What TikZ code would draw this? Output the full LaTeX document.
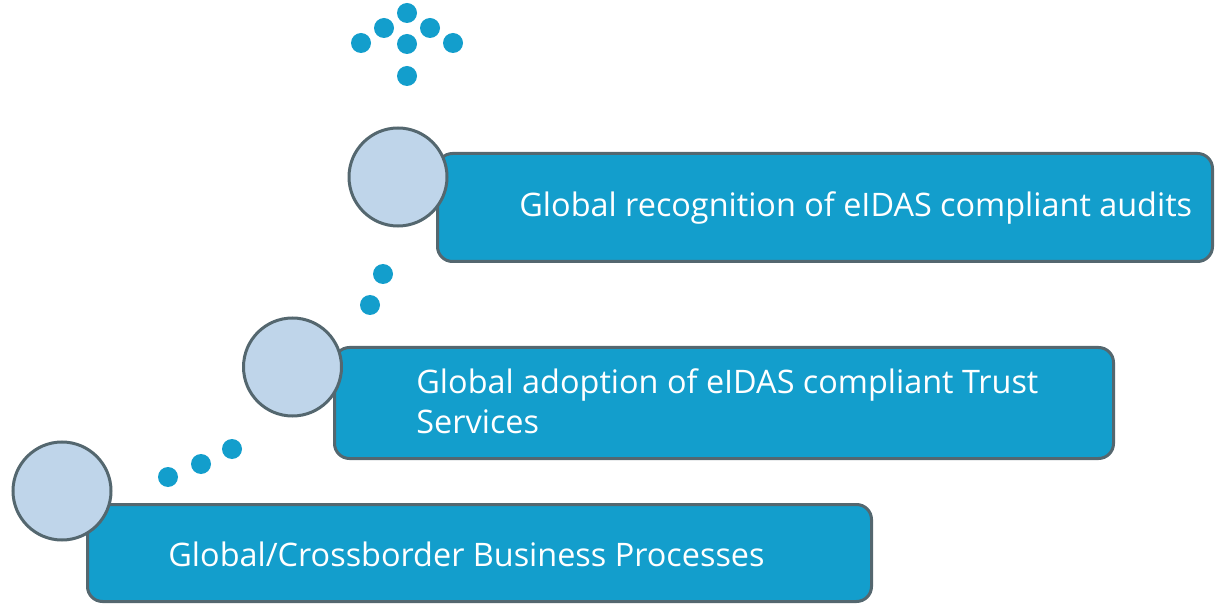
\documentclass[tikz,border=0pt]{standalone}
\usepackage{fontspec}
\setmainfont{Open Sans}
\definecolor{stageblue}{HTML}{139ECC}
\definecolor{ringfill}{HTML}{BFD5EA}
\definecolor{edgegray}{HTML}{54676F}
\tikzset{
  stage/.style={draw=edgegray, line width=1.5pt, fill=stageblue,
    rounded corners=7.5pt, inner sep=0pt},
  ring/.style={circle, draw=edgegray, line width=1.5pt, fill=ringfill,
    minimum size=49pt, inner sep=0pt},
  blob/.style={circle, fill=stageblue, minimum size=10pt, inner sep=0pt},
  stagetext/.style={anchor=base west, inner sep=0pt, text=white, align=left,
    font=\fontsize{16.2pt}{20pt}\selectfont},
}
\begin{document}
\begin{tikzpicture}[x=0.5pt,y=-0.5pt]
  \useasboundingbox (0,0) rectangle (1216,604);

  % the three stages
  \node[stage, minimum width=387.5pt, minimum height=54pt] (audits) at (825,207.5) {};
  \node[stage, minimum width=389.5pt, minimum height=55.5pt] (trust) at (724,403) {};
  \node[stage, minimum width=392pt, minimum height=48.5pt] (business) at (479.5,553) {};

  % base of the last line
  \node[stagetext] (auditstext) at (519,217) {Global recognition of eIDAS compliant audits};
  \node[stagetext] (trusttext) at (416,433) {Global adoption of eIDAS compliant Trust\\Services};
  \node[stagetext] (businesstext) at (168,566) {Global/Crossborder Business Processes};

  % rings on the corners
  \node[ring] (ring1) at (398,177) {};
  \node[ring] (ring2) at (292.5,367) {};
  \node[ring] (ring3) at (62,491) {};

  % dotted trail
  \foreach \px/\py in {168/477, 201/464, 232/449, 370/305, 383/274}
    \node[blob] at (\px,\py) {};

  % dotted arrow head
  \foreach \px/\py in {407/13, 384/28, 430/28, 361/43, 407/44, 453/43, 407/76}
    \node[blob] at (\px,\py) {};
\end{tikzpicture}
\end{document}
